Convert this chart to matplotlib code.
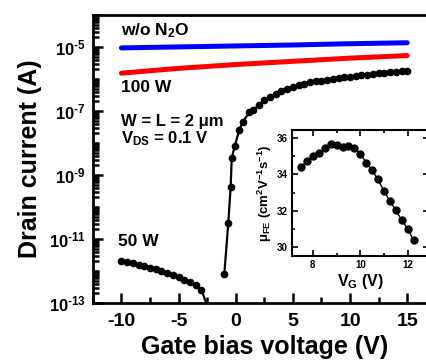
import numpy as np
import matplotlib
matplotlib.use("Agg")
import matplotlib.pyplot as plt
from matplotlib.ticker import FixedLocator, LogLocator, NullFormatter, FuncFormatter, MultipleLocator

plt.rcParams["font.family"] = ["Liberation Sans", "DejaVu Sans"]
plt.rcParams["font.weight"] = "bold"
plt.rcParams["axes.unicode_minus"] = False  # 用短横线作负号
plt.rcParams["mathtext.fontset"] = "custom"
plt.rcParams["mathtext.rm"] = "Liberation Sans:bold"
plt.rcParams["mathtext.bf"] = "Liberation Sans:bold"
plt.rcParams["mathtext.it"] = "Liberation Sans:bold"

# 主图数据 (log10 电流)
vg_lines = [-10, -5, 0, 5, 10, 15]
log_wo_n2o = [-5.03, -5.00, -4.97, -4.94, -4.90, -4.87]
log_100w = [-5.82, -5.67, -5.55, -5.45, -5.35, -5.27]

vg_50w = [-10, -9.5, -9, -8.5, -8, -7.5, -7, -6.5, -6, -5.5, -5, -4.5, -4, -3.5, -3, -2.5,
          -2.0, -1.5,
          -1.0, -0.65, -0.45, -0.35, -0.1, 0.3, 0.6, 1.2, 1.5, 2, 2.5, 3, 3.5, 4, 4.5, 5,
          5.5, 6, 6.5, 7, 7.5, 8, 8.5, 9, 9.5, 10, 10.5, 11, 11.5, 12, 12.5, 13, 13.5,
          14, 14.5, 15]
log_50w = [-11.68, -11.72, -11.76, -11.80, -11.85, -11.90, -11.95, -12.01, -12.07, -12.13,
           -12.20, -12.27, -12.35, -12.45, -12.58, -13.1,
           np.nan, np.nan,
           -12.09, -10.49, -9.39, -8.48, -8.11, -7.60, -7.35, -7.04, -6.98, -6.82, -6.67,
           -6.56, -6.47, -6.39, -6.31, -6.25, -6.19, -6.15, -6.11, -6.08, -6.05, -6.02,
           -5.99, -5.97, -5.95, -5.93, -5.91, -5.89, -5.87, -5.85, -5.82, -5.80, -5.79,
           -5.77, -5.76, -5.74]

# 插图数据: 场效应迁移率
vg_inset = [7.5, 7.75, 8.0, 8.25, 8.5, 8.75, 9.0, 9.25, 9.5, 9.75, 10.0, 10.25, 10.5,
            10.75, 11.0, 11.25, 11.5, 11.75, 12.0, 12.25]
mu_fe = [34.41, 34.74, 35.02, 35.20, 35.44, 35.70, 35.61, 35.52, 35.57, 35.43, 35.15,
         34.65, 34.24, 33.72, 33.07, 32.54, 32.02, 31.48, 31.00, 30.37]

fig = plt.figure(figsize=(4.26, 3.61), dpi=100)
ax = fig.add_axes([0.218, 0.1607, 0.805, 0.798])

ax.plot(vg_lines, 10 ** np.array(log_wo_n2o), color="blue", lw=3.6, solid_capstyle="round")
ax.plot(vg_lines, 10 ** np.array(log_100w), color="red", lw=3.6, solid_capstyle="round")
ax.plot(vg_50w, 10 ** np.array(log_50w), color="black", lw=1.6, marker="o", ms=4.5)

ax.set_yscale("log")
ax.set_xlim(-12.5, 17.5)
ax.set_ylim(1e-13, 1e-4)

ax.yaxis.set_major_locator(FixedLocator([1e-13, 1e-11, 1e-9, 1e-7, 1e-5]))
ax.yaxis.set_minor_locator(LogLocator(base=10, subs=np.arange(1, 10), numticks=30))
ax.yaxis.set_minor_formatter(NullFormatter())
ax.yaxis.set_major_formatter(FuncFormatter(
    lambda v, p: r"$\mathbf{10^{\text{-}%d}}$" % abs(int(round(np.log10(v))))))
ax.xaxis.set_major_locator(FixedLocator([-10, -5, 0, 5, 10, 15]))
ax.xaxis.set_minor_locator(MultipleLocator(2.5))

ax.tick_params(which="both", direction="in", width=1.8)
ax.tick_params(which="major", length=7, labelsize=14, pad=7)
ax.tick_params(which="minor", length=4)
ax.tick_params(axis="y", which="major", labelsize=12, pad=5)
for s in ax.spines.values():
    s.set_linewidth(2)

ax.set_xlabel("Gate bias voltage (V)", fontsize=18, fontweight="bold", labelpad=4)
ax.set_ylabel("Drain current (A)", fontsize=18, fontweight="bold", labelpad=5)

ax.text(-10, 10 ** -4.63, r"w/o N$_2$O", fontsize=12.5, fontweight="bold")
ax.text(-10, 10 ** -6.41, "100 W", fontsize=12.5, fontweight="bold")
ax.text(-10, 10 ** -7.48, "W = L = 2 μm", fontsize=12, fontweight="bold")
ax.text(-10, 10 ** -8.02, r"V$_{DS}$ = 0.1 V", fontsize=12, fontweight="bold")
ax.text(-10.26, 10 ** -11.22, "50 W", fontsize=12.5, fontweight="bold")

# 插图
axin = fig.add_axes([0.6845, 0.2909, 0.3225, 0.349])
axin.plot(vg_inset, mu_fe, color="black", lw=1, marker="o", ms=5)
axin.set_xlim(7.1, 12.9)
axin.set_ylim(29.5, 36.45)
axin.xaxis.set_major_locator(FixedLocator([8, 10, 12]))
axin.xaxis.set_minor_locator(MultipleLocator(1))
axin.yaxis.set_major_locator(FixedLocator([30, 32, 34, 36]))
axin.yaxis.set_minor_locator(MultipleLocator(1))
axin.tick_params(which="both", direction="in", width=1.2, top=True, right=True, labelsize=7, pad=3)
axin.tick_params(which="major", length=4)
axin.tick_params(which="minor", length=2.5)
for s in axin.spines.values():
    s.set_linewidth(1.5)
axin.set_xlabel(r"V$_G$ (V)", fontsize=11.5, fontweight="bold", labelpad=1)
axin.set_ylabel(r"μ$_{FE}$ (cm$^2$V$^{-1}$s$^{-1}$)", fontsize=9.5, fontweight="bold", labelpad=2)

fig.savefig("out.png", dpi=100)
